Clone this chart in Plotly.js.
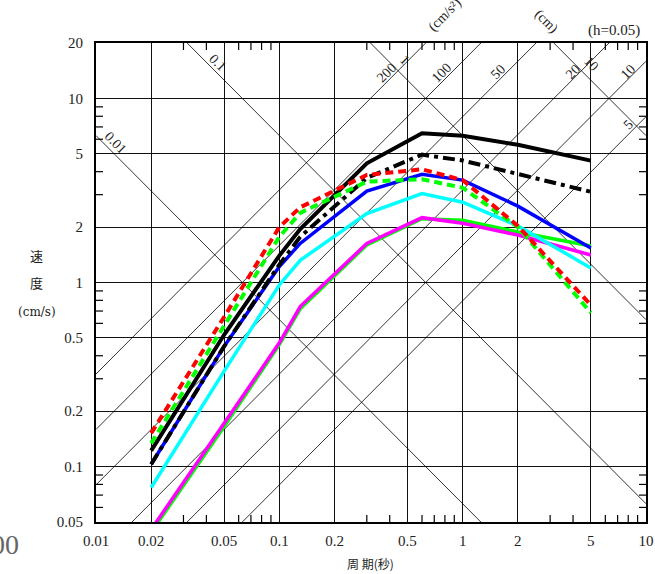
<!DOCTYPE html>
<html>
<head>
<meta charset="utf-8">
<script src="https://cdn.plot.ly/plotly-3.0.1.min.js"></script>
<style>html,body{margin:0;padding:0;background:#fff;}#chart{width:655px;height:574px;}</style>
</head>
<body>
<div id="chart"></div>
<script>
// ---- data ----
const periods = [0.02, 0.05, 0.1, 0.13, 0.3, 0.6, 1.0, 2.0, 5.0];
const blackSolid   = [0.122, 0.52, 1.40, 1.95, 4.44, 6.47, 6.27, 5.6, 4.59];
const blackDashDot = [0.103, 0.45, 1.25, 1.77, 3.7, 4.95, 4.6, 3.9, 3.11];
const blueSolid    = [0.103, 0.45, 1.22, 1.63, 3.14, 3.87, 3.6, 2.6, 1.54];
const redDash      = [0.152, 0.65, 2.0, 2.56, 3.84, 4.12, 3.6, 2.03, 0.755];
const greenDash    = [0.134, 0.59, 1.77, 2.39, 3.53, 3.64, 3.27, 2.0, 0.685];
const cyanSolid    = [0.077, 0.33, 0.97, 1.32, 2.37, 3.04, 2.73, 2.03, 1.2];
const greenSolid   = [0.044, 0.165, 0.46, 0.72, 1.6, 2.22, 2.18, 1.88, 1.58];
const magentaSolid = [0.0455, 0.171, 0.47, 0.74, 1.63, 2.25, 2.1, 1.81, 1.41];

const xTickVals = [0.01, 0.02, 0.05, 0.1, 0.2, 0.5, 1, 2, 5, 10];
const xTickText = ["0.01", "0.02", "0.05", "0.1", "0.2", "0.5", "1", "2", "5", "10"];
const yTickVals = [0.05, 0.1, 0.2, 0.5, 1, 2, 5, 10, 20];
const yTickText = ["0.05", "0.1", "0.2", "0.5", "1", "2", "5", "10", "20"];
const xMinor = [0.03,0.04,0.06,0.07,0.08,0.09,0.3,0.4,0.6,0.7,0.8,0.9,3,4,6,7,8,9];
const yMinor = [0.06,0.07,0.08,0.09,0.3,0.4,0.6,0.7,0.8,0.9,3,4,6,7,8,9];

// tripartite guide lines
const accelValues = [5, 10, 20, 50, 100, 200];     // cm/s^2
const accelLabels = ["5", "10", "20", "50", "100", "200"];
const dispValues = [0.01, 0.1, 1, 10];             // cm
const dispLabels = ["0.01", "0.1", "1", "10"];

// ---- build ----
const X_MIN = 0.01, X_MAX = 10, Y_MIN = 0.05, Y_MAX = 20;
const TW = 2 * Math.PI;
const tEnds = [X_MIN, X_MAX];
const traces = [];
accelValues.forEach(a => {
  traces.push({x: tEnds, y: tEnds.map(t => a * t / TW), mode: 'lines',
    line: {color: '#000', width: 0.8}, hoverinfo: 'skip', showlegend: false});
});
dispValues.forEach(d => {
  traces.push({x: tEnds, y: tEnds.map(t => TW * d / t), mode: 'lines',
    line: {color: '#000', width: 0.8}, hoverinfo: 'skip', showlegend: false});
});

// minor ticks (inside, all four sides), ~7px long
const plotW = 550, plotH = 479;
const fy = Math.pow(10, 7 * Math.log10(Y_MAX / Y_MIN) / plotH);
const fx = Math.pow(10, 7 * Math.log10(X_MAX / X_MIN) / plotW);
const tx = [], ty = [];
xMinor.forEach(v => {
  tx.push(v, v, null, v, v, null);
  ty.push(Y_MIN, Y_MIN * fy, null, Y_MAX / fy, Y_MAX, null);
});
yMinor.forEach(v => {
  tx.push(X_MIN, X_MIN * fx, null, X_MAX / fx, X_MAX, null);
  ty.push(v, v, null, v, v, null);
});
traces.push({x: tx, y: ty, mode: 'lines', line: {color: '#000', width: 1.2},
  hoverinfo: 'skip', showlegend: false, connectgaps: false});

function series(vals, color, width, dash) {
  return {x: periods, y: vals, mode: 'lines', line: {color: color, width: width, dash: dash || 'solid'},
    hoverinfo: 'skip', showlegend: false};
}
traces.push(series(greenSolid, '#00ff00', 3.5));
traces.push(series(magentaSolid, '#ff00ff', 3.5));
traces.push(series(cyanSolid, '#00ffff', 3.5));
traces.push(series(blueSolid, '#0000ff', 3.5));
traces.push(series(blackDashDot, '#000000', 4, '12px,5px,4px,5px'));
traces.push(series(blackSolid, '#000000', 4));
traces.push(series(greenDash, '#00ff00', 4, '8px,5px'));
traces.push(series(redDash, '#ff0000', 4, '8px,5px'));

const serif = 'Liberation Serif, DejaVu Serif, serif';
const cjk = 'Noto Sans CJK JP, Noto Sans CJK SC, sans-serif';
const lg = Math.log10;

const annotations = [];
function ann(o) {
  annotations.push(Object.assign({showarrow: false, xanchor: 'center', yanchor: 'middle'}, o));
}
// acceleration labels (rotated up-right)
const accelPos = {"200": [-0.414, 1.140], "100": [-0.114, 1.140], "50": [0.195, 1.145],
                  "20": [0.604, 1.145], "10": [0.904, 1.145], "5": [0.904, 0.856]};
accelLabels.forEach(l => {
  const p = accelPos[l];
  ann({x: p[0], y: p[1], xref: 'x', yref: 'y', text: l, textangle: -45,
    font: {family: serif, size: 14, color: '#222'}});
});
const dispPos = {"0.01": [-1.896, 0.758], "0.1": [-1.337, 1.195], "1": [-0.320, 1.209], "10": [0.699, 1.187]};
dispLabels.forEach(l => {
  const p = dispPos[l];
  ann({x: p[0], y: p[1], xref: 'x', yref: 'y', text: l, textangle: 45,
    font: {family: serif, size: 14, color: '#222'}});
});
// unit headers above the frame
ann({x: 0.6345, y: 1.0585, xref: 'paper', yref: 'paper', text: '(cm/s²)', textangle: -45,
  font: {family: serif, size: 14, color: '#222'}});
ann({x: 0.8195, y: 1.0445, xref: 'paper', yref: 'paper', text: '(cm)', textangle: 45,
  font: {family: serif, size: 14, color: '#222'}});
ann({x: 0.9418, y: 1.0251, xref: 'paper', yref: 'paper', text: '(h=0.05)',
  font: {family: serif, size: 15, color: '#222'}});
// y title
ann({x: -0.1073, y: 0.5574, xref: 'paper', yref: 'paper', text: '速',
  font: {family: cjk, size: 13, color: '#222'}});
ann({x: -0.1073, y: 0.4990, xref: 'paper', yref: 'paper', text: '度',
  font: {family: cjk, size: 13, color: '#222'}});
ann({x: -0.1073, y: 0.4384, xref: 'paper', yref: 'paper', text: '(cm/s)',
  font: {family: 'DejaVu Serif, serif', size: 12, color: '#222'}});
// x title
ann({x: 0.4982, y: -0.0856, xref: 'paper', yref: 'paper', text: '周 期(秒)',
  font: {family: cjk, size: 12, color: '#222'}});
// clipped stray text at lower left
ann({x: -0.1364, y: -0.048, xref: 'paper', yref: 'paper', xanchor: 'right', text: '100',
  font: {family: serif, size: 28, color: '#666'}});

const layout = {
  width: 655, height: 574,
  margin: {l: 96, r: 9, t: 43, b: 52},
  paper_bgcolor: '#fff', plot_bgcolor: '#fff',
  showlegend: false,
  xaxis: {type: 'log', range: [lg(X_MIN), lg(X_MAX)], tickmode: 'array', tickvals: xTickVals, ticktext: xTickText,
    ticks: '', showgrid: true, gridcolor: '#111', gridwidth: 1, zeroline: false,
    showline: true, linecolor: '#000', linewidth: 2, mirror: true,
    tickfont: {family: serif, size: 15, color: '#222'}, ticklabelstandoff: 4},
  yaxis: {type: 'log', range: [lg(Y_MIN), lg(Y_MAX)], tickmode: 'array', tickvals: yTickVals, ticktext: yTickText,
    ticks: '', showgrid: true, gridcolor: '#111', gridwidth: 1, zeroline: false,
    showline: true, linecolor: '#000', linewidth: 2, mirror: true,
    tickfont: {family: serif, size: 15, color: '#222'}, ticklabelstandoff: 8},
  annotations: annotations
};

Plotly.newPlot('chart', traces, layout, {staticPlot: true, displayModeBar: false});
</script>
</body>
</html>
